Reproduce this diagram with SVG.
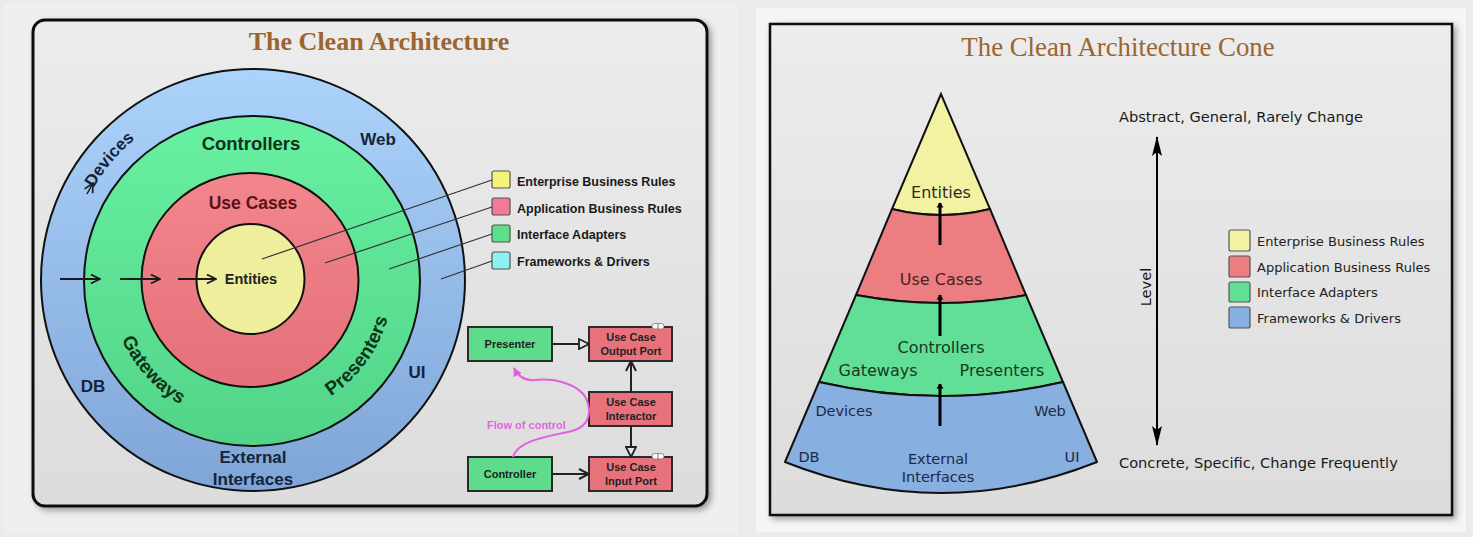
<svg xmlns="http://www.w3.org/2000/svg" width="1473" height="537" viewBox="0 0 1473 537">
<defs>
<style>
.bold{font-family:"Liberation Sans",Arial,sans-serif;font-weight:bold}
.ring{font-family:"Liberation Sans",Arial,sans-serif;font-weight:bold;font-size:17px;fill:#14233c;text-anchor:middle}
.leg{font-family:"Liberation Sans",Arial,sans-serif;font-weight:bold;font-size:12.5px;fill:#1a1a1a}
.box{font-family:"Liberation Sans",Arial,sans-serif;font-weight:bold;font-size:11px;fill:#222;text-anchor:middle}
.cone{font-family:"DejaVu Sans",Verdana,sans-serif;font-size:16px;text-anchor:middle}
.coneb{font-family:"DejaVu Sans",Verdana,sans-serif;font-size:14.5px;text-anchor:middle;fill:#1c2a45}
.side{font-family:"DejaVu Sans",Verdana,sans-serif;font-size:14.6px;fill:#1a1a1a}
.leg2{font-family:"DejaVu Sans",Verdana,sans-serif;font-size:13px;fill:#222}
.sq{stroke:#555;stroke-width:1.2}
.bx{stroke:#2a2a2a;stroke-width:2}
.edge{stroke:#222;stroke-width:2;fill:none}
.lline{stroke:#333;stroke-width:1.2;fill:none}
.layer{stroke:#111;stroke-width:2}
</style>
<linearGradient id="gBlue" x1="0" y1="0" x2="0" y2="1"><stop offset="0" stop-color="#acd3fb"/><stop offset="1" stop-color="#7ea5d6"/></linearGradient>
<linearGradient id="gGreen" x1="0" y1="0" x2="0" y2="1"><stop offset="0" stop-color="#68f0a2"/><stop offset="1" stop-color="#52d488"/></linearGradient>
<linearGradient id="gRed" x1="0" y1="0" x2="0" y2="1"><stop offset="0" stop-color="#f3868c"/><stop offset="1" stop-color="#e4707a"/></linearGradient>
<linearGradient id="gPanel" x1="0" y1="0" x2="0" y2="1"><stop offset="0" stop-color="#ececec"/><stop offset="1" stop-color="#dcdcdc"/></linearGradient>
<filter id="shadow" x="-5%" y="-5%" width="110%" height="110%"><feDropShadow dx="3" dy="3" stdDeviation="3" flood-color="#000" flood-opacity="0.35"/></filter>
<marker id="openV" viewBox="0 0 12 12" refX="11" refY="6" markerWidth="12" markerHeight="12" markerUnits="userSpaceOnUse" orient="auto"><path d="M1,1 L11,6 L1,11" fill="none" stroke="#222" stroke-width="2"/></marker>
<marker id="hollow" viewBox="0 0 12 12" refX="11" refY="6" markerWidth="12" markerHeight="12" markerUnits="userSpaceOnUse" orient="auto"><path d="M1,1 L11,6 L1,11 Z" fill="#e8e8e8" stroke="#222" stroke-width="1.8"/></marker>
<marker id="ringV" viewBox="0 0 12 12" refX="11" refY="6" markerWidth="11" markerHeight="11" markerUnits="userSpaceOnUse" orient="auto"><path d="M1,1 L11,6 L1,11" fill="none" stroke="#1a1a1a" stroke-width="1.8"/></marker>
<marker id="fill" viewBox="0 0 10 20" refX="9" refY="10" markerWidth="20" markerHeight="10" markerUnits="userSpaceOnUse" orient="auto"><path d="M0,3 L10,10 L0,17 Z" fill="#000"/></marker>
<marker id="fillL" viewBox="0 0 20 10" refX="19" refY="5" markerWidth="20" markerHeight="10" markerUnits="userSpaceOnUse" orient="auto"><path d="M0,0 L20,5 L0,10 L4,5 Z" fill="#000"/></marker>
<marker id="magenta" viewBox="0 0 10 10" refX="9" refY="5" markerWidth="9" markerHeight="9" markerUnits="userSpaceOnUse" orient="auto"><path d="M0,0 L10,5 L0,10 Z" fill="#e060e0"/></marker>
<path id="pDevices" d="M69,280 A184,184 0 0 1 221.05,98.8"/>
<path id="pGateways" d="M109.1,285 A144,144 0 0 0 233,422.6"/>
<path id="pPresenters" d="M286.9,415.8 A140,140 0 0 0 392.7,270.2"/>
</defs>

<rect width="1473" height="537" fill="#ebebeb"/>
<rect x="4" y="4" width="734" height="530" fill="#efefef"/>
<rect x="756" y="8" width="710" height="524" fill="#f5f5f5"/>

<!-- Left panel -->
<g id="panel-left">
<rect x="33" y="20" width="674" height="486" rx="12" fill="url(#gPanel)" stroke="#111" stroke-width="3" filter="url(#shadow)"/>
<text x="379" y="50" font-family="Liberation Serif,Times New Roman,serif" font-weight="bold" font-size="26" fill="#9c6530" text-anchor="middle">The Clean Architecture</text>
</g>

<g id="ring-frameworks">
<ellipse cx="253" cy="280" rx="212" ry="211" fill="url(#gBlue)" stroke="#111" stroke-width="2"/>
<text class="ring" x="378" y="145">Web</text>
<text class="ring" x="417" y="378">UI</text>
<text class="ring" x="93" y="392">DB</text>
<text class="ring" x="253" y="463">External</text>
<text class="ring" x="253" y="485">Interfaces</text>
<text class="ring"><textPath href="#pDevices" startOffset="50%">Devices</textPath></text>
</g>
<g id="ring-adapters">
<ellipse cx="252" cy="281" rx="168" ry="165" fill="url(#gGreen)" stroke="#111" stroke-width="2"/>
<text class="bold" x="251" y="150" font-size="18.5" fill="#0d3318" text-anchor="middle">Controllers</text>
<text class="bold" font-size="19" fill="#0d3318" text-anchor="middle"><textPath href="#pGateways" startOffset="50%">Gateways</textPath></text>
<text class="bold" font-size="19" fill="#0d3318" text-anchor="middle"><textPath href="#pPresenters" startOffset="50%">Presenters</textPath></text>
</g>
<g id="ring-usecases">
<ellipse cx="250" cy="280" rx="108.5" ry="107" fill="url(#gRed)" stroke="#111" stroke-width="2"/>
<text class="bold" x="253" y="209" font-size="17.5" fill="#5a1418" text-anchor="middle">Use Cases</text>
</g>
<g id="ring-entities">
<ellipse cx="250.5" cy="279" rx="54" ry="55" fill="#eeee9c" stroke="#111" stroke-width="2"/>
<text class="bold" x="251" y="284" font-size="14.5" fill="#222" text-anchor="middle">Entities</text>
</g>

<g id="legend-left">
<rect class="sq" x="492" y="171" width="18" height="17" rx="2" fill="#f4f47a"/>
<text class="leg" x="517" y="185.5">Enterprise Business Rules</text>
<rect class="sq" x="492" y="198" width="18" height="17" rx="2" fill="#f27a98"/>
<text class="leg" x="517" y="212.5">Application Business Rules</text>
<rect class="sq" x="492" y="225" width="18" height="17" rx="2" fill="#5ee08a"/>
<text class="leg" x="517" y="239">Interface Adapters</text>
<rect class="sq" x="492" y="252" width="18" height="17" rx="2" fill="#8ef0f0"/>
<text class="leg" x="517" y="266">Frameworks &amp; Drivers</text>
</g>

<g id="node-presenter">
<rect class="bx" x="468" y="327" width="84" height="34" fill="#5edc8c"/>
<text class="box" x="510" y="348">Presenter</text>
</g>
<g id="node-output-port">
<rect class="bx" x="589" y="327" width="83" height="34" fill="#e8727c"/>
<rect x="652" y="323.5" width="12" height="5.5" rx="2.7" fill="#fafafa" stroke="#777" stroke-width="0.8"/>
<line x1="658" y1="323.5" x2="658" y2="329" stroke="#777" stroke-width="1"/>
<text class="box" x="631" y="341">Use Case</text>
<text class="box" x="631" y="355">Output Port</text>
</g>
<g id="node-interactor">
<rect class="bx" x="589" y="392" width="83" height="34" fill="#e8727c"/>
<text class="box" x="631" y="406">Use Case</text>
<text class="box" x="631" y="420">Interactor</text>
</g>
<g id="node-controller">
<rect class="bx" x="468" y="457" width="84" height="34" fill="#5edc8c"/>
<text class="box" x="510" y="478">Controller</text>
</g>
<g id="node-input-port">
<rect class="bx" x="589" y="457" width="83" height="34" fill="#e8727c"/>
<rect x="652" y="453.5" width="12" height="5.5" rx="2.7" fill="#fafafa" stroke="#777" stroke-width="0.8"/>
<line x1="658" y1="453.5" x2="658" y2="459" stroke="#777" stroke-width="1"/>
<text class="box" x="631" y="471">Use Case</text>
<text class="box" x="631" y="485">Input Port</text>
</g>
<text x="487" y="429" font-family="Liberation Sans,Arial,sans-serif" font-weight="bold" font-size="11" fill="#e068e0">Flow of control</text>

<!-- Right panel -->
<g id="panel-right">
<rect x="770" y="24" width="682" height="491" fill="url(#gPanel)" stroke="#111" stroke-width="2.5" filter="url(#shadow)"/>
<text x="1118" y="56" font-family="Liberation Serif,Times New Roman,serif" font-size="26.8" fill="#9c6530" text-anchor="middle">The Clean Architecture Cone</text>
</g>

<g id="cone-entities">
<path class="layer" d="M941,94 L892,209 Q941,221 990,209 Z" fill="#f2f2a2"/>
<text class="cone" x="941" y="198" fill="#2a2a2a">Entities</text>
</g>
<g id="cone-usecases">
<path class="layer" d="M892,209 Q941,221 990,209 L1026,295 Q941,311 856,295 Z" fill="#ec7e82"/>
<text class="cone" x="941" y="285" fill="#4a1e22">Use Cases</text>
</g>
<g id="cone-adapters">
<path class="layer" d="M856,295 Q941,311 1026,295 L1063,382 Q941,410 819,382 Z" fill="#62df96"/>
<text class="cone" x="941" y="353" fill="#163a24">Controllers</text>
<text class="cone" x="878" y="376" fill="#163a24">Gateways</text>
<text class="cone" x="1002" y="376" fill="#163a24">Presenters</text>
</g>
<g id="cone-frameworks">
<path class="layer" d="M819,382 Q941,410 1063,382 L1097,462 Q941,524 785,462 Z" fill="#87afe0" stroke-linejoin="round"/>
<text class="coneb" x="844" y="416">Devices</text>
<text class="coneb" x="1050" y="416">Web</text>
<text class="coneb" x="809" y="462">DB</text>
<text class="coneb" x="1072" y="462">UI</text>
<text class="coneb" x="938" y="464">External</text>
<text class="coneb" x="938" y="482">Interfaces</text>
</g>

<g id="level-scale">
<text class="side" x="1119" y="122">Abstract, General, Rarely Change</text>
<text class="side" x="1119" y="468">Concrete, Specific, Change Frequently</text>
<text class="side" transform="translate(1151,287) rotate(-90)" font-size="13" text-anchor="middle">Level</text>
</g>

<g id="legend-right">
<rect class="sq" x="1229" y="230" width="21" height="21" rx="2" fill="#f2f2a2"/>
<text class="leg2" x="1257" y="245.5">Enterprise Business Rules</text>
<rect class="sq" x="1229" y="256" width="21" height="21" rx="2" fill="#ec7e82"/>
<text class="leg2" x="1257" y="271.5">Application Business Rules</text>
<rect class="sq" x="1229" y="282" width="21" height="20" rx="2" fill="#62df96"/>
<text class="leg2" x="1257" y="297">Interface Adapters</text>
<rect class="sq" x="1229" y="307" width="21" height="21" rx="2" fill="#87afe0"/>
<text class="leg2" x="1257" y="322.5">Frameworks &amp; Drivers</text>
</g>

<g id="connectors">
<line class="lline" x1="492" y1="180" x2="262" y2="259"/>
<line class="lline" x1="492" y1="207" x2="325" y2="263"/>
<line class="lline" x1="492" y1="234" x2="389" y2="269"/>
<line class="lline" x1="492" y1="261" x2="441" y2="279"/>
<line x1="60" y1="279" x2="100" y2="279" stroke="#1a1a1a" stroke-width="1.8" marker-end="url(#ringV)"/>
<line x1="120" y1="279" x2="160" y2="279" stroke="#1a1a1a" stroke-width="1.8" marker-end="url(#ringV)"/>
<line x1="178" y1="279" x2="216" y2="279" stroke="#1a1a1a" stroke-width="1.8" marker-end="url(#ringV)"/>
<line x1="87" y1="194" x2="93" y2="183" stroke="#1a1a1a" stroke-width="1.5" marker-end="url(#ringV)"/>
<line class="edge" x1="552" y1="344" x2="589" y2="344" marker-end="url(#hollow)"/>
<line class="edge" x1="631" y1="392" x2="631" y2="361" marker-end="url(#openV)"/>
<line class="edge" x1="631" y1="426" x2="631" y2="457" marker-end="url(#hollow)"/>
<line class="edge" x1="552" y1="474" x2="589" y2="474" marker-end="url(#openV)"/>
<path d="M513,457 C518,440 550,436 572,431 C590,426 592,412 586,398 C578,384 555,378 535,380 C525,381 518,376 514,368" fill="none" stroke="#e060e0" stroke-width="2" marker-end="url(#magenta)"/>
<line x1="940" y1="245" x2="940" y2="203" stroke="#000" stroke-width="3" marker-end="url(#fill)"/>
<line x1="940" y1="336" x2="940" y2="295" stroke="#000" stroke-width="3" marker-end="url(#fill)"/>
<line x1="940" y1="426" x2="940" y2="384" stroke="#000" stroke-width="3" marker-end="url(#fill)"/>
<line x1="1157" y1="290" x2="1157" y2="137" stroke="#000" stroke-width="2" marker-end="url(#fillL)"/>
<line x1="1157" y1="290" x2="1157" y2="445" stroke="#000" stroke-width="2" marker-end="url(#fillL)"/>
</g>
</svg>
